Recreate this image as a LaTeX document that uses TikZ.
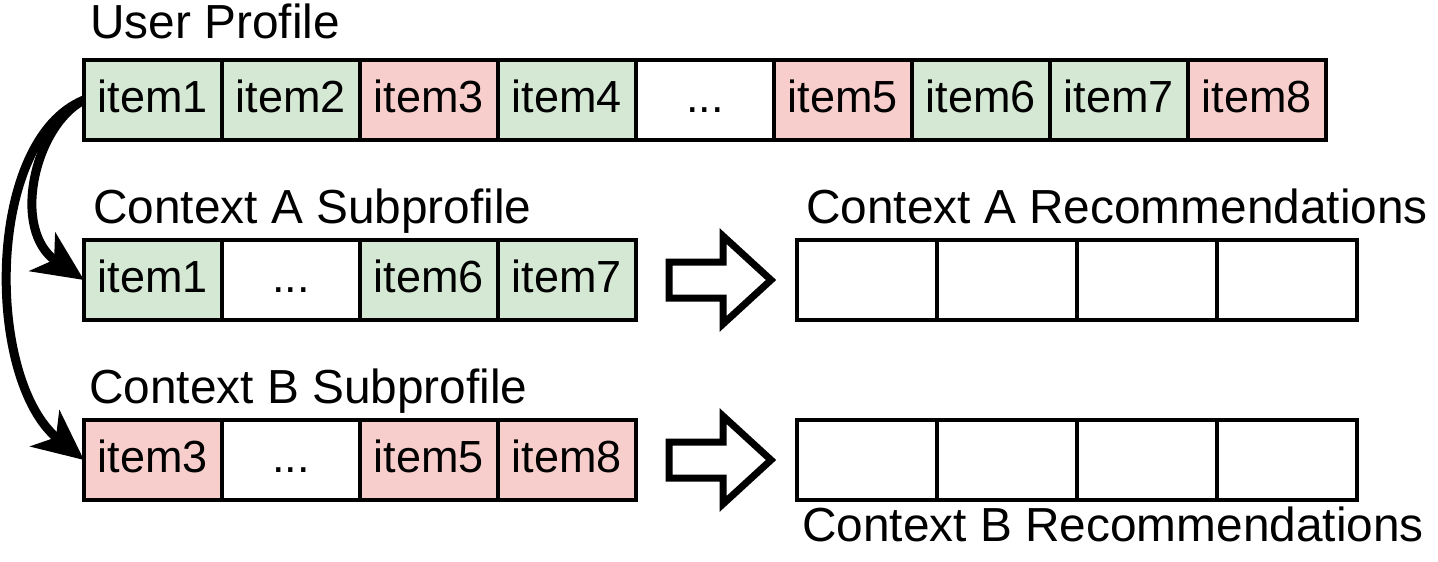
\documentclass[tikz,border=0pt]{standalone}
\usepackage{fontspec}
\setmainfont{Liberation Sans}
\usetikzlibrary{arrows.meta}
\definecolor{cgreen}{HTML}{D5E8D4}
\definecolor{cred}{HTML}{F8CECC}
\tikzset{
  cell/.style={draw=black, line width=4pt, minimum width=138pt, minimum height=80pt,
    inner sep=0pt, outer sep=0pt, text height=33pt, text depth=9pt,
    font=\fontsize{45}{54}\selectfont},
  reccell/.style={cell, minimum width=140pt},
  gcell/.style={cell, fill=cgreen},
  rcell/.style={cell, fill=cred},
  lbl/.style={anchor=base west, inner sep=0pt, font=\fontsize{47.8}{56}\selectfont},
  curvearrow/.style={line width=9pt, -{Stealth[length=50pt, width=46pt, inset=14pt]}},
  blockarrow/.style={draw=black, line width=7pt, fill=white, line join=miter}
}
\begin{document}
\begin{tikzpicture}[x=1pt, y=-1pt]
\useasboundingbox (0,0) rectangle (1438,562);
% User profile
\node[gcell] (u1) at (153,100) {item1};
\node[gcell] (u2) at (291,100) {item2};
\node[rcell] (u3) at (429,100) {item3};
\node[gcell] (u4) at (567,100) {item4};
\node[cell]  (u5) at (705,100) {...};
\node[rcell] (u6) at (843,100) {item5};
\node[gcell] (u7) at (981,100) {item6};
\node[gcell] (u8) at (1119,100) {item7};
\node[rcell] (u9) at (1257,100) {item8};
\node[lbl] (ul) at (90,38) {User Profile};
% Context A subprofile
\node[gcell] (a1) at (153,280) {item1};
\node[cell]  (a2) at (291,280) {...};
\node[gcell] (a3) at (429,280) {item6};
\node[gcell] (a4) at (567,280) {item7};
\node[lbl] (al) at (93,223) {Context A Subprofile};
% Context B subprofile
\node[rcell] (b1) at (153,460) {item3};
\node[cell]  (b2) at (291,460) {...};
\node[rcell] (b3) at (429,460) {item5};
\node[rcell] (b4) at (567,460) {item8};
\node[lbl] (bl) at (89,403) {Context B Subprofile};
% Recommendations A
\node[reccell] (ra1) at (867,280) {};
\node[reccell] (ra2) at (1007,280) {};
\node[reccell] (ra3) at (1147,280) {};
\node[reccell] (ra4) at (1287,280) {};
\node[lbl] (ral) at (806,223) {Context A Recommendations};
% Recommendations B
\node[reccell] (rb1) at (867,460) {};
\node[reccell] (rb2) at (1007,460) {};
\node[reccell] (rb3) at (1147,460) {};
\node[reccell] (rb4) at (1287,460) {};
\node[lbl] (rbl) at (802,541) {Context B Recommendations};
% block arrows
\draw[blockarrow] (669,262) -- (723,262) -- (723,236) -- (771,280) -- (723,324) -- (723,298) -- (669,298) -- cycle;
\draw[blockarrow] (669,442) -- (723,442) -- (723,416) -- (771,460) -- (723,504) -- (723,478) -- (669,478) -- cycle;
% curved arrows
\draw[curvearrow] (u1.west) .. controls (35,125) and (10,230) .. (a1.west);
\draw[curvearrow] (u1.west) .. controls (-15,140) and (-15,380) .. (b1.west);
\end{tikzpicture}
\end{document}
